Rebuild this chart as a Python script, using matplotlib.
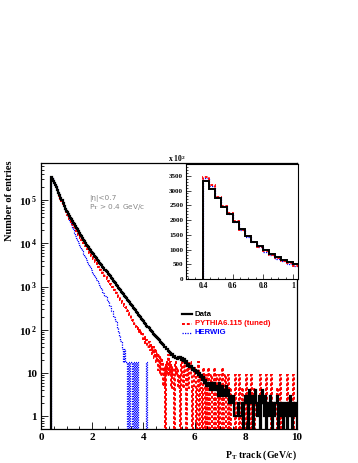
import numpy as np
import matplotlib
matplotlib.use("Agg")
import matplotlib.pyplot as plt
from matplotlib.lines import Line2D
from matplotlib.ticker import FixedLocator, MultipleLocator, NullFormatter

plt.rcParams['mathtext.fontset'] = 'custom'
plt.rcParams['mathtext.rm'] = 'Liberation Serif:bold'
plt.rcParams['mathtext.bf'] = 'Liberation Serif:bold'
plt.rcParams['mathtext.it'] = 'Liberation Serif:bold'

# bins: 0.04 GeV/c from 0.4 to 10
bin_lo = 0.4
bin_hi = 10.0
n_bins = 240

data_counts = [
    332000, 304000, 276000, 245000, 220000, 195000, 169000, 146000, 127000, 112000,
    99000, 85500, 73100, 63000, 56000, 51800, 47300, 43200, 39400, 36000,
    32900, 30000, 27400, 25000, 22800, 20900, 19000, 17400, 15900, 14500,
    13200, 12100, 11000, 10000, 9300, 8640, 8030, 7460, 6930, 6440,
    5980, 5560, 5160, 4800, 4460, 4140, 3850, 3580, 3320, 3090,
    2870, 2670, 2480, 2300, 2140, 1990, 1850, 1720, 1600, 1480,
    1380, 1280, 1190, 1100, 1025, 952, 890, 820, 770, 712,
    668, 618, 578, 535, 500, 462, 433, 400, 377, 348,
    325, 301, 283, 260, 244, 226, 212, 195, 183, 169,
    158, 146, 138, 126, 119, 108, 102, 95, 90, 82,
    78, 71, 69, 64, 60, 58, 52, 50, 47, 45,
    41, 40, 36, 37, 33, 31, 30, 27, 28, 24,
    25, 22, 23, 21, 24, 22, 24, 20, 23, 19,
    21, 17, 19, 15, 16, 14, 15, 12, 13, 11,
    12, 10, 11, 9, 10, 8, 9, 7, 8, 6,
    7, 5, 6, 5, 6, 4, 6, 5, 4, 6,
    5, 4, 5, 3, 6, 4, 3, 5, 4, 3,
    4, 5, 3, 4, 2, 3, 2, 3, 1, 1,
    1, 1, 2, 1, 1, 1, 2, 0, 2, 3,
    2, 3, 0, 4, 2, 3, 3, 0, 2, 4,
    2, 1, 1, 3, 0, 2, 4, 2, 1, 3,
    0, 2, 2, 1, 3, 2, 0, 2, 1, 2,
    3, 0, 2, 1, 2, 1, 0, 2, 2, 1,
    0, 2, 1, 3, 1, 0, 2, 1, 1, 2,
]

pythia_counts = [
    345000, 318500, 279000, 248700, 222800, 196000, 166500, 145000, 125000, 108000,
    93400, 82000, 69800, 61000, 52800, 45000, 41000, 37300, 33900, 30900,
    28100, 25600, 23300, 21200, 19300, 17500, 15900, 14500, 13200, 12000,
    10900, 10000, 9200, 8480, 7810, 7190, 6620, 6100, 5620, 5170,
    4760, 4390, 4040, 3720, 3430, 3160, 2910, 2680, 2460, 2270,
    2090, 1920, 1770, 1630, 1500, 1380, 1270, 1170, 1080, 995,
    930, 830, 790, 700, 660, 590, 560, 500, 470, 420,
    400, 350, 340, 290, 275, 250, 220, 215, 180, 170,
    160, 135, 140, 115, 105, 110, 85, 100, 75, 80,
    62, 70, 50, 58, 40, 52, 35, 45, 28, 40,
    22, 36, 18, 30, 12, 27, 9, 22, 18, 5,
    14, 0, 18, 9, 27, 9, 18, 4.5, 14, 9,
    0, 18, 9, 13, 4.5, 9, 0, 18, 9, 4.5,
    18, 9, 0, 13, 4.5, 18, 9, 0, 4.5, 13,
    9, 0, 4.5, 18, 0, 9, 4.5, 0, 13, 9,
    0, 9, 0, 13, 0, 4.5, 9, 0, 0, 13,
    0, 9, 4.5, 0, 9, 0, 0, 13, 0, 4.5,
    9, 0, 0, 9, 0, 4.5, 0, 0, 0, 9,
    0, 0, 0, 9, 0, 0, 4.5, 0, 0, 0,
    9, 0, 0, 0, 0, 9, 0, 0, 4.5, 0,
    0, 0, 0, 0, 9, 0, 0, 0, 0, 0,
    9, 0, 0, 0, 0, 9, 0, 0, 0, 0,
    4.5, 0, 0, 9, 0, 0, 0, 0, 0, 0,
    9, 0, 0, 0, 0, 0, 9, 0, 0, 0,
]

herwig_counts = [
    342000, 317000, 278000, 248000, 222000, 195000, 165000, 144000, 124000, 107000,
    92000, 80500, 68500, 59500, 51500, 44000, 38500, 33700, 29500, 25800,
    22600, 19800, 17300, 15100, 13200, 11600, 10100, 9000, 8100, 7200,
    6500, 5700, 5200, 4600, 4150, 3700, 3300, 3000, 2650, 2400,
    2100, 1950, 1750, 1620, 1450, 1350, 1180, 1100, 980, 900,
    760, 700, 600, 560, 470, 440, 360, 350, 280, 270,
    210, 200, 160, 150, 110, 90, 72, 54, 54, 36,
    18, 36, 18, 18, 0, 18, 0, 18, 18, 0,
    18, 0, 18, 0, 18, 0, 0, 0, 0, 0,
    0, 0, 0, 18, 0, 0, 0, 0, 0, 0,
] + [0] * 140

legend_labels = ["Data", "PYTHIA6.115 (tuned)", "HERWIG"]
legend_colors = ["black", "#ff0000", "#0000ff"]

y_ticks = [1, 10, 100, 1000, 10000, 100000]
y_ticklabels = ["1", "10", r"$\mathbf{10^{\,2}}$", r"$\mathbf{10^{\,3}}$",
                r"$\mathbf{10^{\,4}}$", r"$\mathbf{10^{\,5}}$"]
inset_yticks = [0, 500, 1000, 1500, 2000, 2500, 3000, 3500]
inset_xticks = [0.4, 0.6, 0.8, 1.0]
inset_xticklabels = ["0.4", "0.6", "0.8", "1"]

edges = np.linspace(bin_lo, bin_hi, n_bins + 1)
floor = 1e-3

def pos(v):
    v = np.asarray(v, dtype=float)
    return np.where(v > 0, v, floor)

serif = {'family': 'Liberation Serif', 'weight': 'bold'}

fig = plt.figure(figsize=(3.58, 4.63), dpi=100)
W, H = 358.0, 463.0

ax = fig.add_axes([41 / W, 1 - 429 / H, 256 / W, 266 / H])
ax.set_yscale('log')
ax.stairs(pos(herwig_counts), edges, baseline=floor, color='#0000ff', lw=0.9, ls=(0, (1, 1)))
ax.stairs(pos(pythia_counts), edges, baseline=floor, color='#ff0000', lw=1.4, ls=(0, (1.5, 1)))
ax.stairs(pos(data_counts), edges, baseline=floor, color='black', lw=1.6)
ax.set_xlim(0, 10)
ax.set_ylim(0.514, 7.15e5)

ax.yaxis.set_major_locator(FixedLocator(y_ticks))
ax.set_yticklabels(y_ticklabels, fontdict=serif, fontsize=8)
ax.yaxis.set_minor_formatter(NullFormatter())
ax.xaxis.set_minor_locator(MultipleLocator(0.5))
ax.set_xticks([0, 2, 4, 6, 8, 10])
ax.set_xticklabels(["0", "2", "4", "6", "8", "10"], fontdict=serif, fontsize=8)
ax.tick_params(which='both', direction='in', top=False, right=False, width=0.6)
ax.tick_params(which='major', length=5, pad=3)
ax.tick_params(which='minor', length=2.5)
for s in ax.spines.values():
    s.set_linewidth(0.9)

ax.set_ylabel("Number of entries", fontdict=serif, fontsize=7.5, ha='right', va='center')
ax.yaxis.set_label_coords(-31 / 256, 1.01)
ax.set_xlabel(r"P$_\mathbf{T}$ track (GeV/c)", fontdict=serif, fontsize=7, ha='right')
ax.xaxis.set_label_coords(1.0, -20 / 266)

ax.text(48 / 256, (429 - 198) / 266, "|\u03b7|<0.7", transform=ax.transAxes,
        color='#888888', fontsize=5.3, family='DejaVu Sans', va='center')
ax.text(48 / 256, (429 - 207) / 266, r"P$_{\rm T}$ > 0.4 GeV/c", transform=ax.transAxes,
        color='#888888', fontsize=5.3, family='DejaVu Sans', va='center')

# legend
leg_y = [314, 323.5, 333]
leg_ls = ['-', (0, (1.5, 1)), (0, (1, 1))]
leg_lw = [1.6, 1.4, 0.9]
for lab, col, ly, ls, lw in zip(legend_labels, legend_colors, leg_y, leg_ls, leg_lw):
    fig.lines.append(Line2D([182 / W, 192 / W], [1 - ly / H, 1 - ly / H], color=col,
                            ls=ls, lw=lw, transform=fig.transFigure))
    fig.text(195 / W, 1 - ly / H, lab, color=col, fontsize=5.6, family='Liberation Sans',
             weight='bold', va='center')

# inset
n_in = 17
axi = fig.add_axes([186 / W, 1 - 279 / H, 112 / W, 115 / H])
axi.stairs(np.asarray(herwig_counts[:n_in]) / 100, edges[:n_in + 1], baseline=0,
           color='#0000ff', lw=0.9, ls=(0, (1, 1)))
axi.stairs(np.asarray(pythia_counts[:n_in]) / 100, edges[:n_in + 1], baseline=0,
           color='#ff0000', lw=1.3, ls=(0, (1.5, 1)))
axi.stairs(np.asarray(data_counts[:n_in]) / 100, edges[:n_in + 1], baseline=0,
           color='black', lw=1.4)
axi.set_xlim(0.287, 1.033)
axi.set_ylim(0, 3900)
axi.set_yticks(inset_yticks)
axi.set_yticklabels([str(v) for v in inset_yticks], fontdict=serif, fontsize=5)
axi.set_xticks(inset_xticks)
axi.set_xticklabels(inset_xticklabels, fontdict=serif, fontsize=5.5)
axi.xaxis.set_minor_locator(MultipleLocator(0.05))
axi.yaxis.set_minor_locator(MultipleLocator(100))
axi.tick_params(which='both', direction='in', top=False, right=False, width=0.5)
axi.tick_params(which='major', length=3.5, pad=2)
axi.tick_params(which='minor', length=1.5)
for s in axi.spines.values():
    s.set_linewidth(0.8)
fig.text(168 / W, 1 - 158 / H, r"x 10$^{\mathbf{2}}$", fontdict=serif, fontsize=5.5, va='center')

fig.savefig("out.png", dpi=100)
